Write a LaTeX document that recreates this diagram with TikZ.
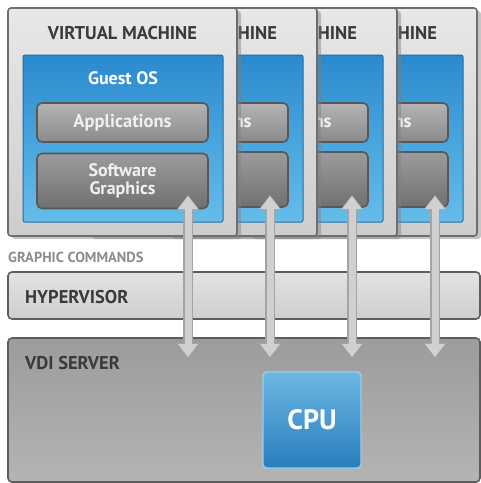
\documentclass[tikz,border=0pt]{standalone}
\usepackage{fontspec}
\setmainfont{PT Sans}
\usetikzlibrary{arrows.meta,shadows}

\definecolor{vmedge}{HTML}{6E6E6E}
\definecolor{vmtop}{HTML}{E8E8E8}
\definecolor{vmbot}{HTML}{CDCDCD}
\definecolor{osedge}{HTML}{1F6FA6}
\definecolor{ostop}{HTML}{2A8ACE}
\definecolor{osbot}{HTML}{66BDEA}
\definecolor{appedge}{HTML}{585858}
\definecolor{apptop}{HTML}{B4B4B4}
\definecolor{appbot}{HTML}{8A8A8A}
\definecolor{swtop}{HTML}{9C9C9C}
\definecolor{swbot}{HTML}{707070}
\definecolor{darktext}{HTML}{3A3A3A}
\definecolor{softtext}{HTML}{8C8C8C}
\definecolor{hvtop}{HTML}{E2E2E2}
\definecolor{hvbot}{HTML}{CFCFCF}
\definecolor{srvtop}{HTML}{9C9C9C}
\definecolor{srvbot}{HTML}{B4B4B4}
\definecolor{cputop}{HTML}{6CB8E4}
\definecolor{cpubot}{HTML}{2A7DBD}
\definecolor{arrowfill}{HTML}{D0D0D0}
\definecolor{arrowedge}{HTML}{A4A4A4}

\begin{document}
\begin{tikzpicture}[x=1pt,y=-1pt]
\tikzset{every node/.style={inner sep=0pt, font=\bfseries}}
\tikzset{
  vmbox/.style={draw=vmedge, line width=1.6pt, rounded corners=3pt,
    top color=vmtop, bottom color=vmbot, minimum width=229pt, minimum height=228pt,
    drop shadow={shadow xshift=4pt, shadow yshift=-3pt, opacity=.45}},
  vmtitle/.style={text=darktext, font=\bfseries\fontsize{18.5}{18.5}\selectfont},
  osbox/.style={draw=osedge, line width=1pt, rounded corners=2pt,
    top color=ostop, bottom color=osbot, minimum width=200pt, minimum height=167pt},
  oslabel/.style={text=white, font=\bfseries\fontsize{18}{18}\selectfont},
  appbox/.style={draw=appedge, line width=1.6pt, rounded corners=5pt,
    top color=apptop, bottom color=appbot, minimum width=171pt, minimum height=39pt,
    text=white!94!black, font=\bfseries\fontsize{18.5}{18.5}\selectfont},
  swbox/.style={appbox, top color=swtop, bottom color=swbot, minimum height=55pt,
    align=center, font=\bfseries\fontsize{18}{18}\selectfont},
  layerbox/.style={draw=vmedge!85!black, line width=1.6pt, rounded corners=4pt},
  layerlabel/.style={anchor=west, text=darktext, font=\bfseries\fontsize{18.5}{18.5}\selectfont},
  cpubox/.style={draw=cputop!70!white, line width=1.4pt, rounded corners=4pt,
    top color=cputop, bottom color=cpubot, minimum width=98pt, minimum height=96pt,
    text=white, font=\bfseries\fontsize{28}{28}\selectfont},
  linkedge/.style={draw=arrowedge, line width=9.5pt,
    {Triangle[width=22pt,length=15pt]}-{Triangle[width=22pt,length=15pt]}},
  linkfill/.style={draw=arrowfill, line width=7pt,
    {Triangle[width=19pt,length=13pt]}-{Triangle[width=19pt,length=13pt]}}
}

\fill[white] (0,0) rectangle (481,483);
\useasboundingbox (0,0) rectangle (481,483);

% Virtual machine 4 (back)
\node[vmbox] at (362.5,122) (vm4) {};
\node[vmtitle] at (362.5,33) (vm4title) {VIRTUAL MACHINE};
\node[osbox] at (363,138.5) (os4) {};
\node[oslabel] at (363,78) (os4label) {Guest OS};
\node[appbox] at (362.5,122.5) (app4) {Applications};
\node[swbox] at (362.5,179.5) (sw4) {Software\\Graphics};

% Virtual machine 3
\node[vmbox] at (282.5,122) (vm3) {};
\node[vmtitle] at (282.5,33) (vm3title) {VIRTUAL MACHINE};
\node[osbox] at (283,138.5) (os3) {};
\node[oslabel] at (283,78) (os3label) {Guest OS};
\node[appbox] at (282.5,122.5) (app3) {Applications};
\node[swbox] at (282.5,179.5) (sw3) {Software\\Graphics};

% Virtual machine 2
\node[vmbox] at (202.5,122) (vm2) {};
\node[vmtitle] at (202.5,33) (vm2title) {VIRTUAL MACHINE};
\node[osbox] at (203,138.5) (os2) {};
\node[oslabel] at (203,78) (os2label) {Guest OS};
\node[appbox] at (202.5,122.5) (app2) {Applications};
\node[swbox] at (202.5,179.5) (sw2) {Software\\Graphics};

% Virtual machine 1 (front)
\node[vmbox] at (122.5,122) (vm1) {};
\node[vmtitle] at (122.5,33) (vm1title) {VIRTUAL MACHINE};
\node[osbox] at (123,138.5) (os1) {};
\node[oslabel] at (123,78) (os1label) {Guest OS};
\node[appbox] at (122.5,122.5) (app1) {Applications};
\node[swbox] at (122.5,181) (sw1) {Software\\Graphics};

% Graphic commands label
\node[anchor=west, text=softtext, font=\bfseries\fontsize{14.5}{14.5}\selectfont] at (8,257) (cmds) {GRAPHIC COMMANDS};

% Hypervisor layer
\node[layerbox, top color=hvtop, bottom color=hvbot, minimum width=472pt, minimum height=47pt] at (244,295.5) (hyper) {};
\node[layerlabel] at (25,297) (hyperlabel) {HYPERVISOR};

% VDI server layer
\node[layerbox, top color=srvtop, bottom color=srvbot, minimum width=472pt, minimum height=144pt] at (244,410) (server) {};
\node[layerlabel] at (25,363) (serverlabel) {VDI SERVER};
\node[cpubox] at (312,420) (cpu) {CPU};

% Ends of the command arrows
\coordinate (top1) at (188,195);
\coordinate (top2) at (270,195);
\coordinate (top3) at (352,195);
\coordinate (top4) at (435,195);
\coordinate (bot1) at (188,358);
\coordinate (bot2) at (270,358);
\coordinate (bot3) at (352,358);
\coordinate (bot4) at (435,358);

% Arrows between machines and server
\draw[linkedge] (top1) -- (bot1);
\draw[linkedge] (top2) -- (bot2);
\draw[linkedge] (top3) -- (bot3);
\draw[linkedge] (top4) -- (bot4);
\draw[linkfill] ([yshift=-1pt]top1) -- ([yshift=1pt]bot1);
\draw[linkfill] ([yshift=-1pt]top2) -- ([yshift=1pt]bot2);
\draw[linkfill] ([yshift=-1pt]top3) -- ([yshift=1pt]bot3);
\draw[linkfill] ([yshift=-1pt]top4) -- ([yshift=1pt]bot4);
\end{tikzpicture}
\end{document}
